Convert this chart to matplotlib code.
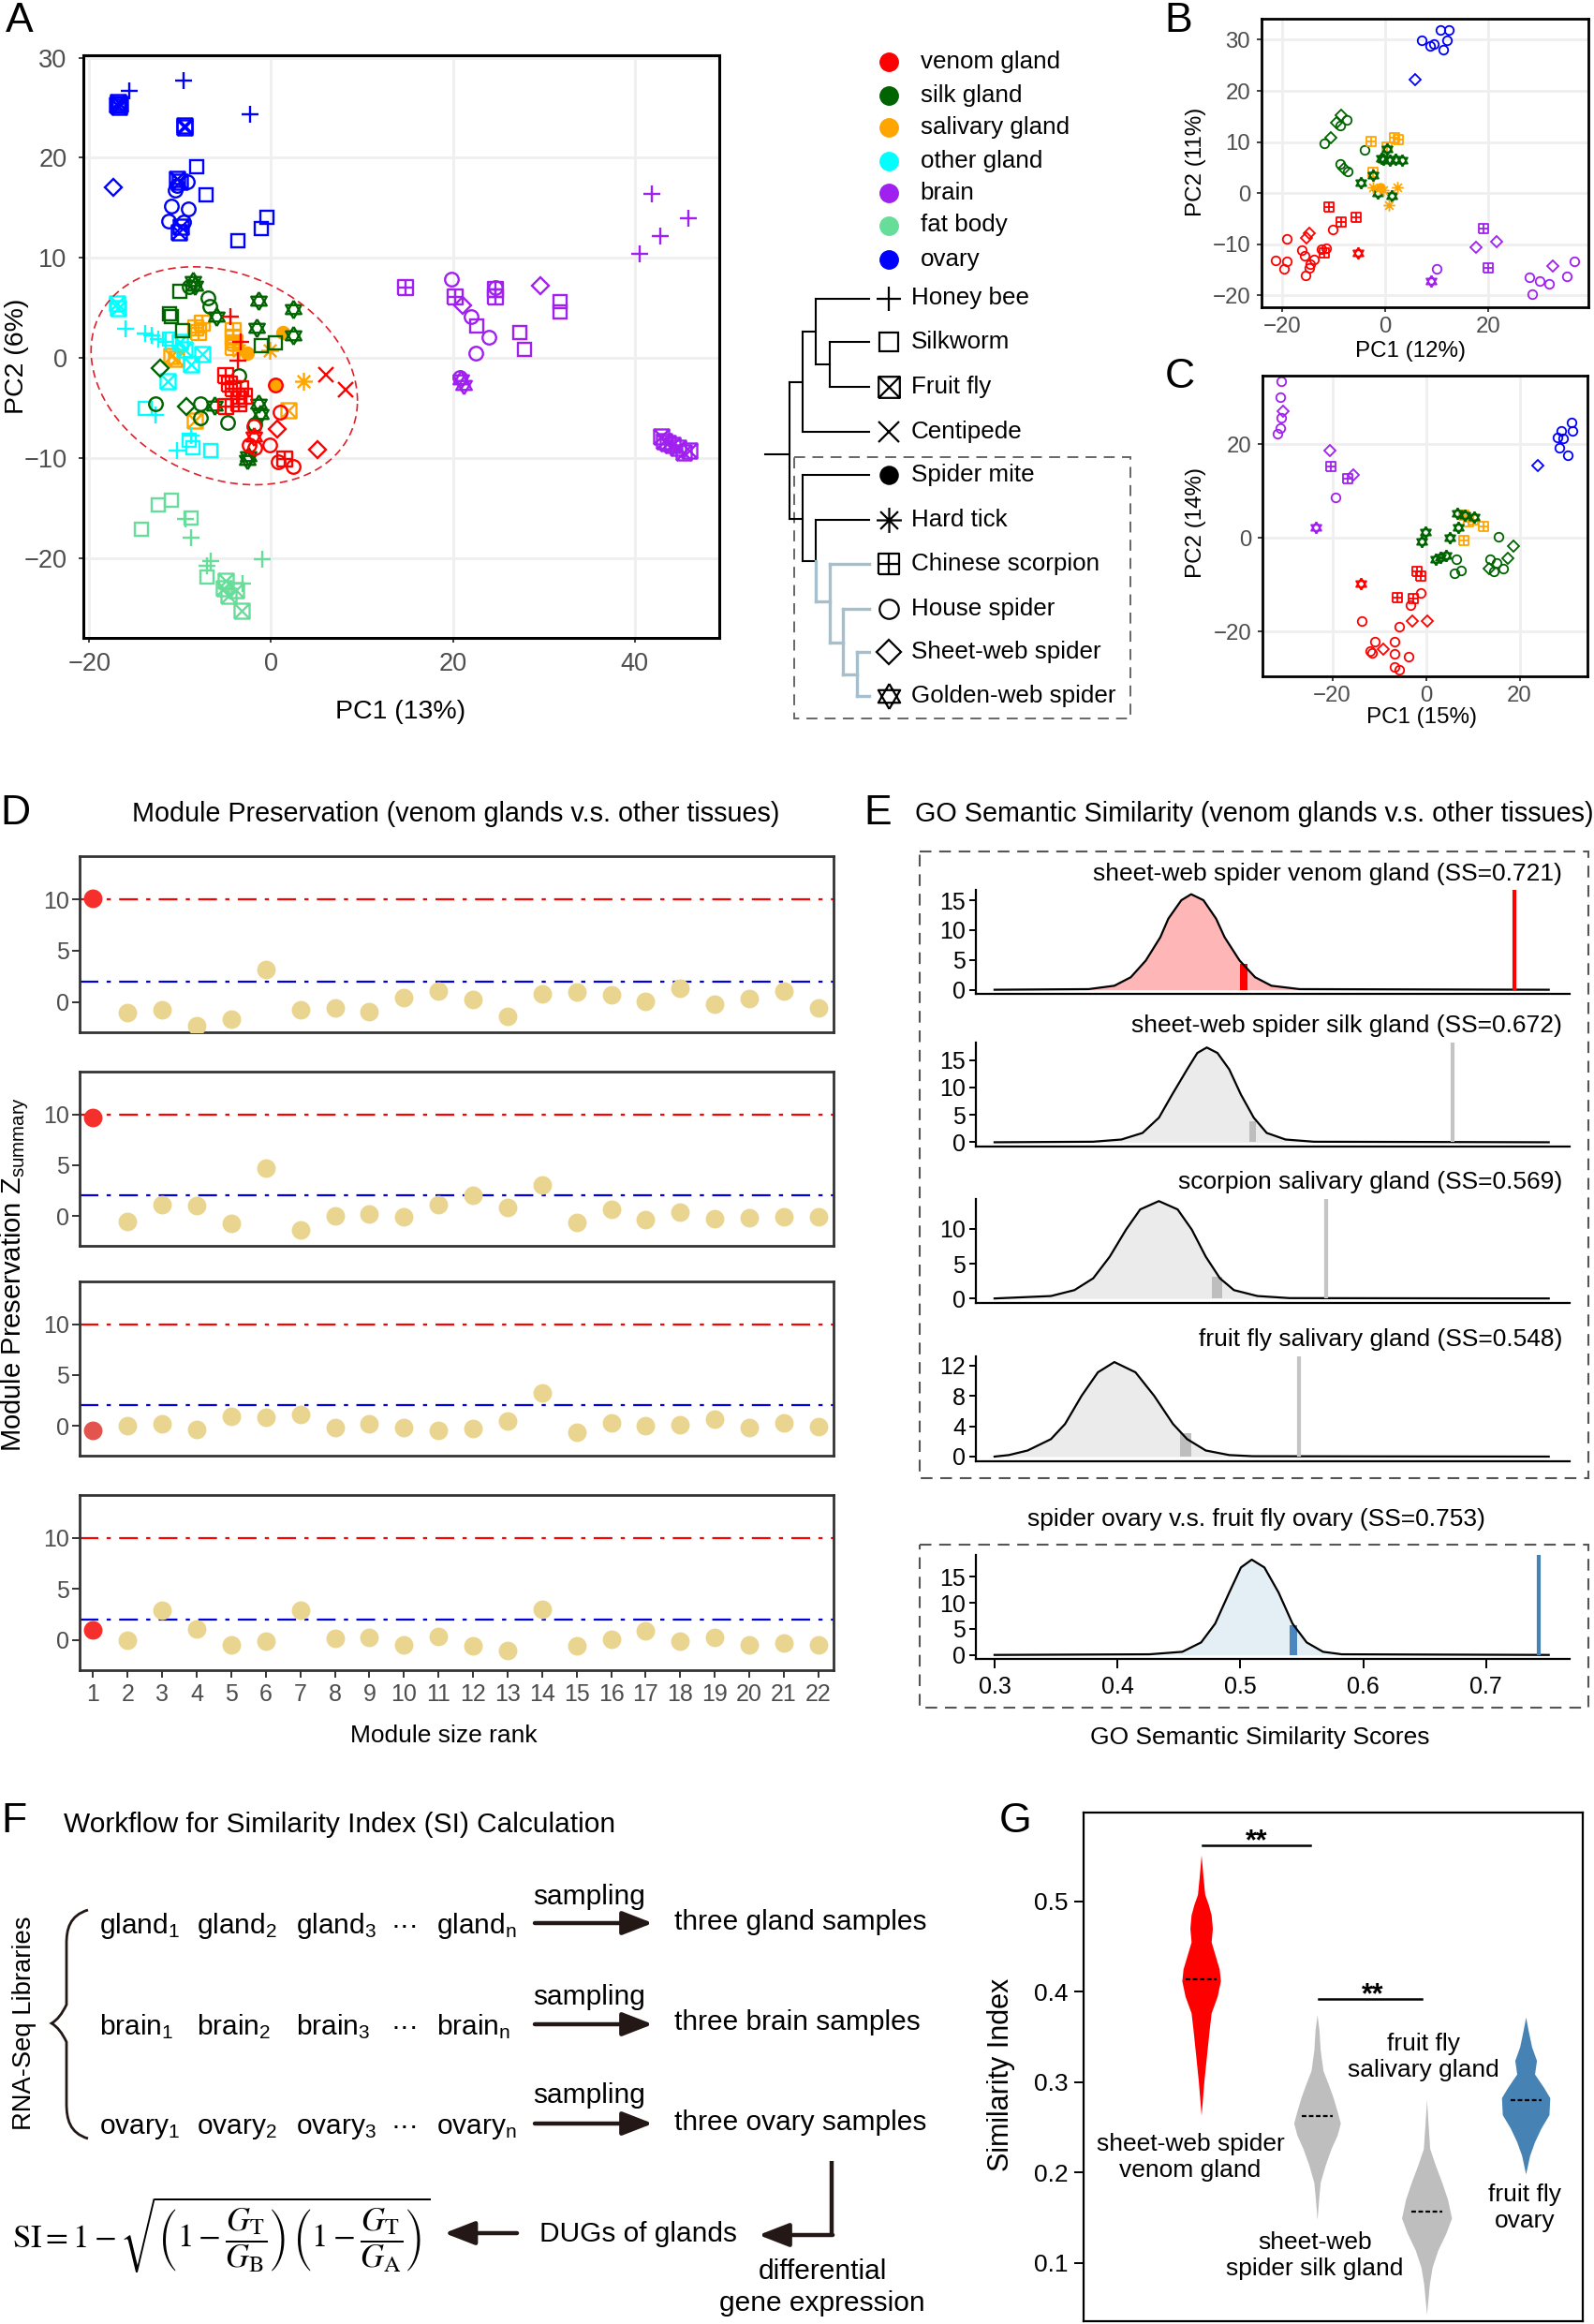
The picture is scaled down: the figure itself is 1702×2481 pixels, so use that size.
import numpy as np
import matplotlib
matplotlib.use("Agg")
import matplotlib.pyplot as plt
from matplotlib.path import Path
from matplotlib.patches import PathPatch, Rectangle

plt.rcParams["font.family"] = ["Liberation Sans", "DejaVu Sans"]
plt.rcParams["mathtext.fontset"] = "custom"
plt.rcParams["mathtext.rm"] = "Liberation Sans"
plt.rcParams["mathtext.it"] = "Liberation Sans:italic"
plt.rcParams["mathtext.bf"] = "Liberation Sans:bold"

W, H = 1702, 2481

# ---------------- data ----------------
tissue_codes = ["V", "S", "L", "O", "B", "F", "Y"]
tissue_names = ["venom gland", "silk gland", "salivary gland", "other gland", "brain", "fat body", "ovary"]
tissue_cols = ["#FF0000", "#006400", "#FFA500", "#00FFFF", "#A020F0", "#66DD99", "#0000FF"]
species_codes = ["hb", "sw", "ff", "cp", "sm", "ht", "cs", "hs", "sh", "gw"]
species_names = ["Honey bee", "Silkworm", "Fruit fly", "Centipede", "Spider mite", "Hard tick",
                 "Chinese scorpion", "House spider", "Sheet-web spider", "Golden-web spider"]

# panel A: (tissue, species, PC1, PC2)
a_groups = [
    ("Y", "ff", [-16.8, -16.9, -16.6, -16.7, -9.5, -9.5, -10.3, -9.9, -10.1, -10.0], [25.6, 25.3, 25.4, 25.1, 23.2, 23.0, 17.9, 13.1, 12.5, 17.6]),
    ("Y", "hb", [-15.6, -9.6, -2.3], [26.7, 27.7, 24.3]),
    ("Y", "sh", [-17.4], [17.0]),
    ("Y", "sw", [-8.2, -7.2, -0.5, -1.1, -3.7], [19.1, 16.3, 14.0, 12.9, 11.7]),
    ("Y", "hs", [-9.2, -10.6, -11.0, -9.1, -11.3, -9.6, -10.3], [17.6, 16.8, 15.2, 14.9, 13.7, 13.6, 17.2]),
    ("B", "hb", [41.9, 45.9, 42.8, 40.5], [16.4, 13.9, 12.2, 10.4]),
    ("B", "cs", [14.8, 20.2, 24.7, 24.7], [7.0, 6.1, 6.1, 6.8]),
    ("B", "hs", [19.8, 22.0, 24.0, 22.5, 24.7, 20.8], [7.9, 4.1, 2.1, 0.5, 7.0, -2.0]),
    ("B", "sh", [21.1, 29.6], [5.2, 7.2]),
    ("B", "sw", [22.6, 27.4, 27.9, 31.8, 31.8], [3.2, 2.5, 0.8, 5.6, 4.6]),
    ("B", "gw", [21.2, 20.9], [-2.7, -2.2]),
    ("B", "ff", [42.9, 43.6, 44.2, 44.8, 45.4, 46.0, 43.2], [-7.9, -8.5, -8.7, -9.0, -9.5, -9.3, -8.3]),
    ("F", "sw", [-14.3, -12.4, -11.0, -8.8, -7.0], [-17.1, -14.7, -14.2, -16.0, -21.9]),
    ("F", "hb", [-9.4, -8.8, -6.6, -7.0, -1.0, -3.1], [-16.1, -18.0, -20.3, -20.8, -20.1, -22.6]),
    ("F", "ff", [-5.0, -4.7, -3.9, -3.2, -5.2], [-22.3, -23.8, -23.2, -25.3, -23.0]),
    ("L", "cs", [-8.3, -7.6, -8.0, -4.2, -4.2, -4.0, -4.2], [3.0, 3.5, 2.5, 2.7, 2.1, 1.5, 1.0]),
    ("L", "sm", [-2.6, 0.5, 1.3], [0.5, -2.75, 2.5]),
    ("L", "ht", [-3.6, -0.2, 3.6], [0.7, 0.7, -2.3]),
    ("L", "ff", [-11.0, -10.4, -8.4, 1.9], [0.2, -0.1, -6.3, -5.25]),
    ("O", "ff", [-16.9, -16.8, -9.5, -8.8, -7.6, -11.4, -10.0], [5.4, 5.0, 0.85, -0.7, 0.4, -2.3, 1.6]),
    ("O", "hb", [-16.0, -13.8, -13.1, -12.4, -11.6, -12.7, -10.3, -8.8], [2.9, 2.4, 2.2, 1.9, 1.6, -5.7, -9.3, -7.75]),
    ("O", "sw", [-11.2, -13.8, -9.0, -8.6, -6.6], [1.9, -5.1, -8.2, -9.0, -9.3]),
    ("S", "gw", [-8.6, -8.4, -1.4, 2.4, -1.6, 2.4, -6.0, -6.2, -1.4, -1.2, -2.6, -2.5], [7.7, 7.25, 5.7, 4.9, 3.0, 2.25, 4.1, -4.8, -4.6, -5.6, -10.25, -9.8]),
    ("S", "sw", [-10.0, -11.2, -11.0, -9.7, -1.1, 0.5], [6.6, 4.4, 4.1, 2.7, 1.2, 1.5]),
    ("S", "hs", [-9.0, -6.9, -6.7, -12.7, -7.8, -7.8, -4.8, -1.75, -3.6], [7.1, 6.0, 5.1, -4.6, -4.6, -6.0, -6.5, -6.65, -1.8]),
    ("S", "sh", [-12.2, -9.3], [-1.0, -4.9]),
    ("V", "hb", [-4.5, -3.7, -3.3], [4.1, -0.25, 1.6]),
    ("V", "cs", [-5.0, -4.6, -4.2, -3.3, -3.6, -5.0, -3.6, -2.9, 1.5], [-1.8, -2.6, -3.1, -3.1, -4.1, -4.9, -4.6, -3.8, -10.1]),
    ("V", "cp", [6.0, 8.2], [-1.65, -3.2]),
    ("V", "hs", [0.5, 1.0, -1.9, -2.4, -1.75, -0.2, 0.8, 2.4], [-2.75, -5.4, -6.8, -8.7, -9.0, -8.7, -10.4, -10.9]),
    ("V", "sh", [0.65, 5.1], [-7.1, -9.2]),
    ("V", "gw", [-1.9], [-7.9]),
]
# venom-gland ellipse in panel A: centre, x half-axis, y coupling, y half-axis
a_ell = dict(cx=-5.15, cy=-1.8, a=14.65, p=-2.5, q=10.6)

b_groups = [
    ("Y", "hs", [7.1, 8.7, 9.4, 10.7, 12.4, 12.1, 11.3], [29.9, 28.8, 29.2, 31.9, 31.9, 29.9, 28.1]),
    ("Y", "sh", [5.9], [22.2]),
    ("S", "sh", [-8.6, -9.5, -10.6, -7.9], [15.2, 13.8, 10.9, 4.8]),
    ("S", "hs", [-7.4, -8.8, -11.8, -3.9, -8.8, -7.3], [14.3, 13.3, 9.8, 8.4, 5.7, 4.3]),
    ("L", "cs", [-2.7, 0.3, 1.8, 2.6, -2.3], [10.1, 9.0, 10.9, 10.4, 4.0]),
    ("S", "gw", [-4.8, -0.3, 2.1, 3.3, 0.3, -2.4, -1.5, 1.2, -0.8, 1.0], [2.0, 6.6, 6.6, 6.5, 8.6, 3.5, 0.0, -0.6, 6.8, 6.4]),
    ("L", "ht", [-2.4, -0.4, 2.4, 0.8], [1.1, 0.6, 1.2, -2.4]),
    ("L", "sm", [-0.9], [1.2]),
    ("V", "cs", [-10.9, -8.5, -5.6, -11.9], [-2.7, -5.6, -4.8, -11.7]),
    ("V", "hs", [-10.1, -19.0, -16.1, -21.2, -19.0, -19.6, -15.6, -14.5, -14.8, -13.8, -15.5, -12.4, -11.5],
     [-7.1, -9.0, -11.1, -13.1, -13.4, -14.8, -12.3, -13.8, -14.6, -12.9, -16.0, -10.9, -10.8]),
    ("V", "sh", [-14.8, -15.2], [-7.9, -8.7]),
    ("V", "gw", [-5.3], [-11.6]),
    ("B", "cs", [19.1, 20.0], [-7.0, -14.6]),
    ("B", "sh", [17.6, 21.7, 32.6], [-10.5, -9.4, -14.3]),
    ("B", "hs", [10.1, 28.0, 30.1, 31.9, 28.6, 35.3, 36.7], [-14.8, -16.4, -17.2, -17.8, -19.8, -16.2, -13.3]),
    ("B", "gw", [8.9], [-17.2]),
]

c_groups = [
    ("B", "hs", [-30.9, -31.1, -30.9, -31.1, -31.7, -19.3], [33.4, 30.0, 25.7, 23.5, 22.2, 8.7]),
    ("B", "sh", [-30.5, -20.5, -15.5], [27.0, 18.7, 13.4]),
    ("B", "cs", [-20.3, -16.7], [15.2, 12.7]),
    ("B", "gw", [-23.5], [2.2]),
    ("Y", "hs", [31.0, 31.3, 28.9, 28.0, 29.3, 28.5, 30.2], [24.7, 22.9, 22.9, 21.5, 21.2, 19.3, 17.7]),
    ("Y", "sh", [23.8], [15.5]),
    ("L", "cs", [8.0, 9.0, 12.2, 8.0, 10.0], [4.9, 3.5, 2.5, -0.5, 3.8]),
    ("S", "gw", [-0.2, -0.9, 2.0, 4.3, 5.0, 6.7, 6.9, 10.2, 8.3, 3.0], [1.2, -0.8, -4.5, -3.8, 0.1, 5.2, 2.2, 4.5, 4.9, -4.2]),
    ("S", "hs", [6.5, 6.0, 7.5, 15.5, 13.7, 15.0, 16.5, 14.5], [-4.5, -7.5, -6.9, 0.3, -4.5, -5.3, -6.6, -7.1]),
    ("S", "sh", [18.7, 17.5, 13.5], [-1.8, -4.3, -6.5]),
    ("V", "cs", [-2.0, -1.1, -6.1, -2.7], [-7.1, -8.1, -12.8, -13.0]),
    ("V", "gw", [-14.0], [-9.7]),
    ("V", "hs", [-1.1, -3.3, -13.8, -5.7, -11.0, -6.7, -11.9, -11.5, -6.8, -3.8, -6.8, -5.7],
     [-11.8, -14.3, -17.8, -19.0, -22.1, -22.1, -24.1, -24.6, -24.8, -25.3, -27.6, -28.1]),
    ("V", "sh", [-3.0, 0.3, -9.1], [-17.7, -17.8, -23.8]),
]

# panel D: module preservation Z summary, ranks 1..22
d_rank = list(range(1, 23))
d_names = ["sheet-web spider venom gland (1=10.08)", "sheet-web spider silk gland (1=9.68)",
           "scorpion salivary gland (1=-0.45)", "fruit fly salivary gland (1=0.95)"]
d1 = [10.08, -1.0, -0.75, -2.3, -1.7, 3.2, -0.75, -0.6, -0.9, 0.45, 1.05, 0.2, -1.4, 0.8, 1.0, 0.7, 0.1, 1.3, -0.2, 0.3, 1.1, -0.6]
d2 = [9.68, -0.55, 1.1, 1.0, -0.7, 4.7, -1.35, 0.0, 0.15, -0.05, 1.1, 2.0, 0.85, 3.05, -0.6, 0.65, -0.4, 0.35, -0.3, -0.15, -0.05, -0.05]
d3 = [-0.45, 0.0, 0.2, -0.35, 0.9, 0.85, 1.15, -0.15, 0.15, -0.2, -0.5, -0.25, 0.45, 3.2, -0.65, 0.3, 0.0, 0.1, 0.65, -0.2, 0.3, -0.1]
d4 = [0.95, -0.05, 2.95, 1.1, -0.45, -0.1, 2.95, 0.2, 0.3, -0.45, 0.35, -0.6, -1.0, 3.05, -0.6, 0.05, 0.9, -0.15, 0.3, -0.45, -0.3, -0.45]
d_vals = [d1, d2, d3, d4]
d_thresh = [10, 2]

# panel E: GO semantic similarity null densities
e_names = ["sheet-web spider venom gland (SS=0.721)", "sheet-web spider silk gland (SS=0.672)",
           "scorpion salivary gland (SS=0.569)", "fruit fly salivary gland (SS=0.548)",
           "spider ovary v.s. fruit fly ovary (SS=0.753)"]
e1_x = [0.300, 0.3765, 0.3975, 0.4109, 0.4231, 0.4349, 0.4414, 0.452, 0.460, 0.470, 0.4803, 0.4872, 0.4994, 0.512, 0.5253, 0.5482, 0.751]
e1_y = [0, 0.1, 0.67, 2.1, 4.9, 8.8, 11.9, 15.0, 16.0, 15.0, 11.9, 8.8, 4.9, 2.1, 0.67, 0.1, 0]
e2_x = [0.300, 0.380, 0.4032, 0.4204, 0.4338, 0.4445, 0.4567, 0.465, 0.4727, 0.4814, 0.4910, 0.5005, 0.5109, 0.5215, 0.5368, 0.560, 0.751]
e2_y = [0, 0.1, 0.5, 1.7, 4.5, 8.7, 13.3, 16.3, 17.3, 16.3, 13.3, 8.7, 4.5, 1.7, 0.5, 0.1, 0]
e3_x = [0.300, 0.3459, 0.3650, 0.3803, 0.3937, 0.4070, 0.4185, 0.4337, 0.4490, 0.4605, 0.4719, 0.4834, 0.4948, 0.5139, 0.540, 0.751]
e3_y = [0, 0.35, 1.2, 2.9, 6.0, 9.9, 12.8, 14.0, 12.8, 9.9, 6.0, 2.9, 1.2, 0.35, 0.05, 0]
e4_x = [0.300, 0.3116, 0.3269, 0.3459, 0.3574, 0.3708, 0.3841, 0.3975, 0.4147, 0.4299, 0.4452, 0.4567, 0.4719, 0.4910, 0.510, 0.751]
e4_y = [0, 0.2, 0.8, 2.3, 4.3, 8.0, 11.1, 12.45, 11.1, 8.0, 4.3, 2.3, 0.8, 0.2, 0.05, 0]
e5_x = [0.300, 0.4261, 0.4528, 0.4681, 0.4795, 0.4910, 0.5005, 0.5093, 0.5196, 0.5311, 0.5425, 0.5540, 0.5673, 0.5826, 0.751]
e5_y = [0, 0.12, 0.6, 2.4, 6.0, 12.0, 16.8, 18.3, 16.8, 12.0, 6.0, 2.4, 0.6, 0.12, 0]
e_curves = [(e1_x, e1_y), (e2_x, e2_y), (e3_x, e3_y), (e4_x, e4_y), (e5_x, e5_y)]
e_obs = [0.723, 0.673, 0.570, 0.548, 0.743]          # observed SS line
e_q_left = [0.4995, 0.507, 0.477, 0.451, 0.540]      # 95% quantile band
e_q_right = [0.506, 0.513, 0.485, 0.460, 0.546]
e_q_height = [4.3, 3.8, 3.1, 3.1, 5.7]
e_yticks = [[0, 5, 10, 15], [0, 5, 10, 15], [0, 5, 10], [0, 4, 8, 12], [0, 5, 10, 15]]
e_ylim = [(-0.69, 16.65), (-0.73, 18.2), (-0.65, 14.3), (-0.62, 13.2), (-0.77, 19.2)]
e_xticks = [0.3, 0.4, 0.5, 0.6, 0.7]

# panel G: violin outlines (Similarity Index, half width in px)
g_labels = ["sheet-web spider\nvenom gland", "sheet-web\nspider silk gland", "fruit fly\nsalivary gland", "fruit fly\novary"]
g_y = [
    [0.5514, 0.5262, 0.5075, 0.4963, 0.4850, 0.4700, 0.4550, 0.4400, 0.4250, 0.4119, 0.3950, 0.3763, 0.3575, 0.3276, 0.3013, 0.2631],
    [0.3744, 0.3575, 0.3351, 0.3126, 0.2976, 0.2826, 0.2676, 0.2545, 0.2413, 0.2263, 0.2076, 0.1889, 0.1701, 0.1476],
    [0.2807, 0.2526, 0.2263, 0.2076, 0.1889, 0.1701, 0.1495, 0.1326, 0.1139, 0.0951, 0.0764, 0.0426],
    [0.3718, 0.3575, 0.3388, 0.3238, 0.3088, 0.2938, 0.2826, 0.2638, 0.2488, 0.2338, 0.2188, 0.1982],
]
g_hw = [
    [0, 2.1, 3.9, 7.7, 10.7, 12.0, 10.7, 15.0, 19.3, 20.6, 17.2, 10.7, 8.6, 5.6, 3.0, 0],
    [0, 2.1, 3.4, 6.4, 12.0, 17.2, 21.5, 24.9, 21.5, 15.0, 8.6, 3.4, 1.7, 0],
    [0, 1.7, 3.4, 9.5, 16.3, 22.4, 26.7, 20.6, 12.0, 6.0, 3.0, 0],
    [0, 2.6, 6.4, 11.6, 9.5, 19.3, 25.8, 24.9, 16.3, 9.5, 4.3, 0],
]
g_median = [0.4134, 0.2627, 0.1562, 0.2799]
g_cols = ["#FF0000", "#BEBEBE", "#BEBEBE", "#4682B4"]
g_pos = [0.2355, 0.4677, 0.6871, 0.8856]

# ---------------- helpers ----------------
fig = plt.figure(figsize=(W / 100, H / 100), dpi=100)
cv = fig.add_axes([0, 0, 1, 1])
cv.set_xlim(0, W)
cv.set_ylim(H, 0)
cv.axis("off")


def box(l, t, r, b):
    return fig.add_axes([l / W, 1 - b / H, (r - l) / W, (b - t) / H])


def T(x, y, s, size, ha="left", va="center", **kw):
    return cv.text(x, y, s, fontsize=size, ha=ha, va=va, **kw)


def mk(segs):
    verts, codes = [], []
    for s in segs:
        verts += s
        codes += [Path.MOVETO] + [Path.LINETO] * (len(s) - 1)
    return Path(verts, codes)


sq = [(-1, -1), (1, -1), (1, 1), (-1, 1), (-1, -1)]
sq_cross = mk([sq, [(-1, -1), (1, 1)], [(-1, 1), (1, -1)]])
sq_plus = mk([sq, [(0, -1), (0, 1)], [(-1, 0), (1, 0)]])
aster = mk([[(-1, 0), (1, 0)], [(0, -1), (0, 1)], [(-.7, -.7), (.7, .7)], [(-.7, .7), (.7, -.7)]])
star6 = mk([[(0, 1), (-.866, -.5), (.866, -.5), (0, 1)], [(0, -1), (-.866, .5), (.866, .5), (0, -1)]])

sp_marker = {"hb": ("+", 12.0), "sw": ("s", 9.5), "ff": (sq_cross, 10.5), "cp": ("x", 10.0),
             "sm": ("o", 8.5), "ht": (aster, 12.5), "cs": (sq_plus, 10.5), "hs": ("o", 9.5),
             "sh": ("D", 8.3), "gw": (star6, 12.5)}
tis_col = dict(zip(tissue_codes, tissue_cols))


def pca(rect, groups, xlim, ylim, xt, yt, msc, mew, fs, pad_x, pad_y, slw):
    ax = box(*rect)
    for t, s, xs, ys in groups:
        m, ms = sp_marker[s]
        ax.plot(xs, ys, ls="none", marker=m, ms=ms * msc, mew=mew, mec=tis_col[t],
                mfc=tis_col[t] if s == "sm" else "none")
    ax.set_xlim(*xlim)
    ax.set_ylim(*ylim)
    ax.set_xticks(xt)
    ax.set_yticks(yt)
    ax.grid(True, color="#EFEFEF", lw=2.0)
    ax.set_axisbelow(True)
    for s in ax.spines.values():
        s.set_lw(slw)
        s.set_color("black")
    ax.tick_params(length=3.6, width=1.3, color="#333333", labelcolor="#4D4D4D", labelsize=fs)
    ax.tick_params(axis="x", pad=pad_x)
    ax.tick_params(axis="y", pad=pad_y)
    return ax


# ---------------- panel A ----------------
axA = pca((89, 59.4, 768, 681), a_groups, (-20.65, 49.3), (-28.0, 30.2), [-20, 0, 20, 40],
          [-20, -10, 0, 10, 20, 30], 1.1, 1.7, 19.5, 7, 9, 2.2)
tt = np.linspace(0, 2 * np.pi, 200)
axA.plot(a_ell["cx"] + a_ell["a"] * np.cos(tt), a_ell["cy"] + a_ell["p"] * np.cos(tt) + a_ell["q"] * np.sin(tt),
         color="#E0202A", lw=1.2, ls=(0, (5, 3)))
T(21, 22, "A", 32, ha="center")
T(427.5, 760, "PC1 (13%)", 20.5, ha="center")
T(18.5, 380, "PC2 (6%)", 20.5, ha="center", rotation=90)

# legend of tissues
leg_y = [66, 101.8, 136, 172, 206, 240.5, 277]
for yy, c, nm in zip(leg_y, tissue_cols, tissue_names):
    cv.plot(949, yy, "o", ms=14, color=c)
    T(982.7, yy, nm, 18.7)

# species tree
leaf_y = [318.5, 365, 412.8, 460.6, 507, 554.9, 601.8, 649.6, 696, 742.9]
for yy, s, nm in zip(leaf_y, species_codes, species_names):
    m, ms = sp_marker[s]
    cv.plot(949, yy, ls="none", marker=m, ms=ms * 1.55, mew=1.6, mec="black",
            mfc="black" if s == "sm" else "none")
    T(973, yy, nm, 18.7)
black_seg = [(817.3, 484.5, 843.3, 484.5), (843.3, 408, 843.3, 554), (843.3, 408, 857.3, 408),
             (857.3, 354.4, 857.3, 460.6), (857.3, 354.4, 871, 354.4), (871, 318.5, 871, 388.9),
             (871, 318.5, 928.3, 318.5), (871, 388.9, 885.7, 388.9), (885.7, 365, 885.7, 412.8),
             (885.7, 365, 928.3, 365), (885.7, 412.8, 928.3, 412.8), (857.3, 460.6, 928.3, 460.6),
             (843.3, 554, 857.3, 554), (857.3, 507, 857.3, 599.4), (857.3, 507, 928.3, 507),
             (857.3, 599.4, 871, 599.4), (871, 554.9, 871, 599.4), (871, 554.9, 928.3, 554.9)]
blue_seg = [(871, 599.4, 871, 642.4), (871, 642.4, 885.7, 642.4), (885.7, 601.8, 885.7, 685.5),
            (885.7, 601.8, 928.3, 601.8), (885.7, 685.5, 900, 685.5), (900, 649.6, 900, 720.4),
            (900, 649.6, 928.3, 649.6), (900, 720.4, 915, 720.4), (915, 696, 915, 742.9),
            (915, 696, 928.3, 696), (915, 742.9, 928.3, 742.9)]
for x0, y0, x1, y1 in black_seg:
    cv.plot([x0, x1], [y0, y1], color="black", lw=1.5, solid_capstyle="projecting")
for x0, y0, x1, y1 in blue_seg:
    cv.plot([x0, x1], [y0, y1], color="#A5BFCD", lw=2.4, solid_capstyle="projecting")
cv.add_patch(Rectangle((848, 488), 359, 279, fill=False, ec="#666666", lw=1.4, ls=(0, (6, 4))))

# ---------------- panels B and C ----------------
pca((1347, 20, 1696, 328), b_groups, (-24, 39.5), (-22.3, 34.1), [-20, 0, 20], [-20, -10, 0, 10, 20, 30],
    0.72, 1.3, 17.3, 3.6, 5, 2.0)
T(1258, 22, "B", 32, ha="center")
T(1506, 375, "PC1 (12%)", 17.4, ha="center")
T(1277, 173, "PC2 (11%)", 17.4, ha="center", rotation=90)

pca((1348, 400.7, 1695, 721.7), c_groups, (-34.9, 34.5), (-29.5, 34.7), [-20, 0, 20], [-20, 0, 20],
    0.72, 1.3, 17.3, 3.6, 5, 2.0)
T(1260, 403, "C", 32, ha="center")
T(1518, 766, "PC1 (15%)", 17.4, ha="center")
T(1277, 558, "PC2 (14%)", 17.4, ha="center", rotation=90)

# ---------------- panel D ----------------
T(16, 868, "D", 32, ha="center")
T(486.5, 876.6, "Module Preservation (venom glands v.s. other tissues)", 20.7, ha="center", va="baseline")
d_top = [914, 1144, 1368, 1596]
d_bot = [1102, 1330, 1554, 1783]
d_base = [944, 1173.7, 1397.3, 1626]
d_first = ["#F5302C", "#F5302C", "#E2544D", "#F5302C"]
dd = (0, (9, 4, 2, 4))
for k in range(4):
    ax = box(85, d_top[k], 890, d_bot[k])
    ax.set_xlim(0.61, 22.44)
    ax.set_ylim(-2.95, 14.2)
    ax.axhline(d_thresh[0], color="#FF0000", lw=1.6, ls=dd, zorder=1)
    ax.axhline(d_thresh[1], color="#0000DD", lw=1.6, ls=dd, zorder=1)
    ax.scatter(d_rank[1:], d_vals[k][1:], s=205, color="#EAD590", lw=0, zorder=3)
    ax.scatter(d_rank[:1], d_vals[k][:1], s=205, color=d_first[k], lw=0, zorder=3)
    ax.set_yticks([0, 5, 10])
    ax.set_xticks(d_rank)
    ax.tick_params(axis="y", length=6, width=1.4, color="#333333", labelcolor="#4D4D4D", labelsize=18, pad=2)
    ax.tick_params(axis="x", length=6, width=1.4, color="#333333", labelcolor="#4D4D4D", labelsize=18, pad=4)
    if k < 3:
        ax.tick_params(axis="x", bottom=False, labelbottom=False)
    for s in ax.spines.values():
        s.set_color("#333333")
        s.set_lw(2.0)
    T(875, d_base[k], d_names[k], 19, ha="right", va="baseline")
T(473.6, 1860, "Module size rank", 19, ha="center", va="baseline")
T(16, 1360, r"Module Preservation Z$_\mathrm{summary}$", 21, ha="center", rotation=90)

# ---------------- panel E ----------------
T(937, 868, "E", 32, ha="center")
T(977, 877, "GO Semantic Similarity (venom glands v.s. other tissues)", 20.7, va="baseline")
cv.add_patch(Rectangle((982, 909), 714, 669, fill=False, ec="#555555", lw=1.5, ls=(0, (6, 4))))
cv.add_patch(Rectangle((982, 1649), 714, 174, fill=False, ec="#555555", lw=1.5, ls=(0, (6, 4))))
e_top = [950.5, 1113, 1280, 1448, 1660]
e_bot = [1061, 1223.7, 1391, 1560, 1771]
e_fill = ["#FFB6B6", "#EBEBEB", "#EBEBEB", "#EBEBEB", "#E3EFF5"]
e_mark = ["#FF0000", "#BEBEBE", "#BEBEBE", "#BEBEBE", "#4A87BF"]
e_line = ["#FF0000", "#C4C4C4", "#C4C4C4", "#C4C4C4", "#4682B4"]
e_base = [940, 1102.3, 1269, 1437.3]
for k in range(5):
    ax = box(1042, e_top[k], 1676, e_bot[k])
    ax.patch.set_alpha(0)
    ex, ey = e_curves[k]
    ax.set_xlim(0.2848, 0.768)
    ax.set_ylim(*e_ylim[k])
    ax.fill_between(ex, ey, 0, color=e_fill[k], lw=0)
    ax.bar(e_q_left[k], e_q_height[k], width=e_q_right[k] - e_q_left[k], align="edge", color=e_mark[k], lw=0)
    ax.plot(ex, ey, color="black", lw=1.6)
    ax.vlines(e_obs[k], 0, e_ylim[k][1], color=e_line[k], lw=3)
    ax.set_yticks(e_yticks[k])
    for nm in ["top", "right"]:
        ax.spines[nm].set_visible(False)
    for nm in ["left", "bottom"]:
        ax.spines[nm].set_lw(1.6)
    ax.tick_params(axis="y", length=5, width=1.4, labelsize=18, pad=3)
    if k < 4:
        ax.set_xticks([])
        T(1668, e_base[k], e_names[k], 19, ha="right", va="baseline")
    else:
        ax.set_xticks(e_xticks)
        ax.set_xticklabels([f"{v:.1f}" for v in e_xticks])
        ax.tick_params(axis="x", length=7, width=1.4, labelsize=18, pad=6)
T(1341, 1629.3, e_names[4], 19, ha="center", va="baseline")
T(1345, 1861.7, "GO Semantic Similarity Scores", 19, ha="center", va="baseline")

# ---------------- panel F ----------------
T(14.5, 1945, "F", 32, ha="center")
T(68, 1955.6, "Workflow for Similarity Index (SI) Calculation", 21.5, va="baseline")
T(26, 2160, "RNA-Seq Libraries", 19.7, ha="center", rotation=90)
brace = Path([(94, 2039), (74, 2045), (71, 2060), (71, 2075), (71, 2140), (64, 2155), (55, 2160),
              (64, 2165), (71, 2180), (71, 2245), (71, 2262), (74, 2277), (94, 2283)],
             [Path.MOVETO, Path.CURVE4, Path.CURVE4, Path.CURVE4, Path.LINETO, Path.CURVE3, Path.CURVE3,
              Path.CURVE3, Path.CURVE3, Path.LINETO, Path.CURVE4, Path.CURVE4, Path.CURVE4])
cv.add_patch(PathPatch(brace, fill=False, lw=2.0, ec="#231815"))
rows = ["gland", "brain", "ovary"]
row_base = [2064, 2172, 2278]
samp_base = [2033, 2140, 2245]
arrow_y = [2053, 2161, 2267]
out_base = [2060.5, 2167, 2274]
col_x = [106.5, 210, 316]
for r, yb, sb, ay, ob in zip(rows, row_base, samp_base, arrow_y, out_base):
    for i, xx in enumerate(col_x):
        T(xx, yb, r + r"$_\mathrm{" + str(i + 1) + "}$", 21.5, va="baseline")
    T(432.5, yb, "\u00b7\u00b7\u00b7", 21.5, ha="center", va="baseline")
    T(466, yb, r + r"$_\mathrm{n}$", 21.5, va="baseline")
    T(629.4, sb, "sampling", 21.5, ha="center", va="baseline")
    cv.annotate("", xy=(697, ay), xytext=(571, ay),
                arrowprops=dict(arrowstyle="-|>,head_length=0.9,head_width=0.35", lw=3.2, color="#231815",
                                shrinkA=0, shrinkB=0, mutation_scale=22))
    T(720, ob, "three " + r + " samples", 21.5, va="baseline")
cv.plot([888, 888], [2307, 2386], color="#231815", lw=3.2, solid_capstyle="butt")
cv.annotate("", xy=(810, 2386), xytext=(889.1, 2386),
            arrowprops=dict(arrowstyle="-|>,head_length=0.9,head_width=0.35", lw=3.2, color="#231815",
                            shrinkA=0, shrinkB=0, mutation_scale=22))
T(576.5, 2393, "DUGs of glands", 21.5, va="baseline")
cv.annotate("", xy=(474.5, 2384), xytext=(552, 2384),
            arrowprops=dict(arrowstyle="-|>,head_length=0.9,head_width=0.35", lw=3.2, color="#231815",
                            shrinkA=0, shrinkB=0, mutation_scale=22))
T(878, 2433, "differential", 21.5, ha="center", va="baseline")
T(878, 2467, "gene expression", 21.5, ha="center", va="baseline")
T(13, 2386, r"$\mathrm{SI}=1-\sqrt{\left(1-\dfrac{G_\mathrm{T}}{G_\mathrm{B}}\right)\,\left(1-\dfrac{G_\mathrm{T}}{G_\mathrm{A}}\right)}$",
  25, va="center", math_fontfamily="stix")

# ---------------- panel G ----------------
T(1084, 1945, "G", 32, ha="center")
axG = box(1157, 1934.6, 1690, 2478)
axG.patch.set_alpha(0)
axG.set_xlim(0, 1)
axG.set_ylim(0.0353, 0.5985)
gw_px = 533.0
for k in range(4):
    hw = np.array(g_hw[k]) / gw_px
    axG.fill_betweenx(g_y[k], g_pos[k] - hw, g_pos[k] + hw, color=g_cols[k], lw=0)
    axG.plot([g_pos[k] - 16.5 / gw_px, g_pos[k] + 16.5 / gw_px], [g_median[k]] * 2, color="black", lw=1.6,
             ls=(0, (2.2, 1.2)))
axG.plot([0.2383, 0.4533], [0.5619, 0.5619], color="black", lw=1.8)
axG.plot([0.4702, 0.6773], [0.392, 0.392], color="black", lw=1.8)
axG.set_xticks([])
axG.set_yticks([0.1, 0.2, 0.3, 0.4, 0.5])
axG.tick_params(axis="y", length=7, width=1.4, labelsize=19, pad=5)
for s in axG.spines.values():
    s.set_lw(1.6)
T(1342, 1974, "**", 22, ha="center", va="baseline", fontweight="bold")
T(1465.6, 2138, "**", 22, ha="center", va="baseline", fontweight="bold")
T(1069, 2215, "Similarity Index", 22, ha="center", rotation=90)
g_lab_xy = [(1271, 2303), (1404, 2408), (1520, 2196), (1628, 2357)]
for (lx, ly), lab in zip(g_lab_xy, g_labels):
    T(lx, ly, lab, 19, ha="center", linespacing=1.2)

fig.savefig("out.png", dpi=100)
